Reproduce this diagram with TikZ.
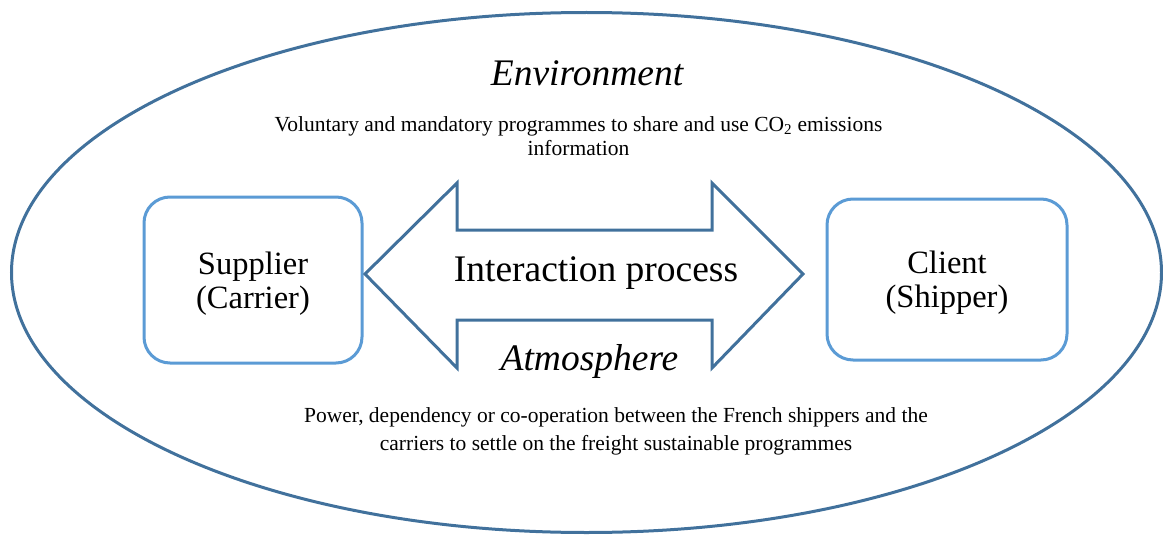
\documentclass[tikz,border=0pt]{standalone}
\usepackage{fontspec}
\usetikzlibrary{shapes.geometric}
\setmainfont{Liberation Serif}
\definecolor{dkblue}{HTML}{41719C}
\definecolor{ltblue}{HTML}{5B9BD5}
\tikzset{
  actor/.style={draw=ltblue, line width=3pt, rounded corners=26pt, fill=white, inner sep=0pt},
  actortext/.style={align=center, font=\fontsize{32.5}{34}\selectfont, inner sep=0pt, anchor=base},
  small/.style={align=center, inner sep=0pt, anchor=base},
  title/.style={font=\fontsize{37.5}{40}\selectfont\itshape, anchor=base, inner sep=0pt}
}
\begin{document}
\begin{tikzpicture}[x=1pt,y=-1pt]
\useasboundingbox (0,0) rectangle (1163,535);
\node[draw=dkblue, line width=3pt, ellipse, minimum width=1150pt, minimum height=520pt, inner sep=0pt] (env) at (586.5,272.5) {};
\node[actor, minimum width=218pt, minimum height=166pt] (sup) at (253,280) {};
\node[actor, minimum width=240pt, minimum height=161pt] (cli) at (947,279.5) {};
\node[actortext] (supt) at (253,308) {Supplier\\(Carrier)};
\node[actortext] (clit) at (947,307) {Client\\(Shipper)};
\coordinate (lt) at (365,274);
\coordinate (rt) at (803,274);
\draw[dkblue, line width=3pt, line join=miter] (lt) -- (457,183) -- (457,230) -- (712,230) -- (712,183) -- (rt) -- (712,368) -- (712,320) -- (457,320) -- (457,368) -- cycle;
\node[font=\fontsize{37.5}{40}\selectfont, anchor=base, inner sep=0pt] (ip) at (596,281) {Interaction process};
\node[title] (envt) at (587,86) {Environment};
\node[title] (atm) at (589.5,370) {Atmosphere};
\node[small, font=\fontsize{21.5}{24}\selectfont] (vol) at (578.5,155) {Voluntary and mandatory programmes to share and use CO\textsubscript{2} emissions\\information};
\node[small, font=\fontsize{21.5}{28}\selectfont] (pow) at (616,450) {Power, dependency or co-operation between the French shippers and the\\carriers to settle on the freight sustainable programmes};
\end{tikzpicture}
\end{document}
